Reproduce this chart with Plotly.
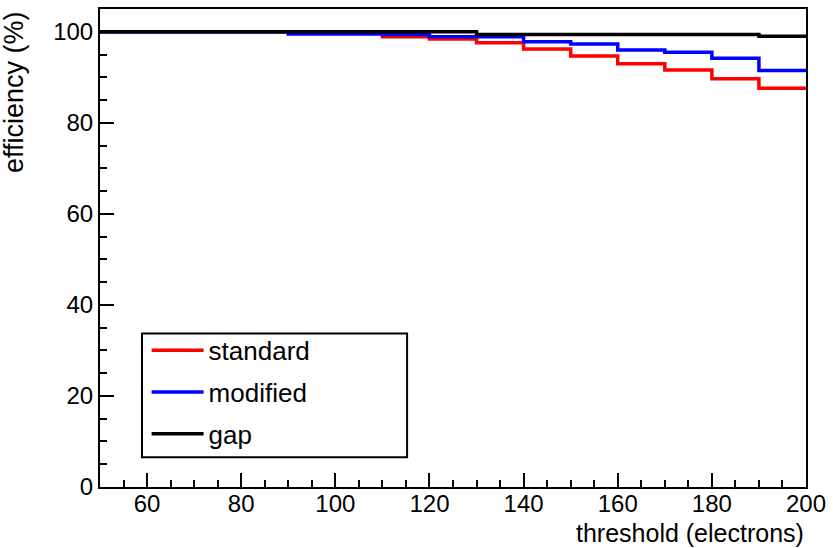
import plotly.graph_objects as go

# bin lower edges (electrons) and efficiencies (%)
thresholds = [50, 60, 70, 80, 90, 100, 110, 120, 130, 140, 150, 160, 170, 180, 190]
x_max = 200
standard = [100, 100, 100, 100, 100, 100, 98.9, 98.4, 97.6, 96.2, 94.7, 93.0, 91.6, 89.7, 87.6]
modified = [100, 100, 100, 100, 99.5, 99.5, 99.4, 98.9, 98.9, 97.8, 97.3, 96.0, 95.5, 94.2, 91.5]
gap = [100, 100, 100, 100, 100, 100, 100, 100, 99.4, 99.4, 99.4, 99.4, 99.4, 99.4, 99.0]

series = [("standard", standard, "#ff0000"), ("modified", modified, "#0000ff"), ("gap", gap, "#000000")]

FONT = "Liberation Sans, Arial, Helvetica, sans-serif"

fig = go.Figure()
for i, (name, vals, color) in enumerate(series):
    xs = thresholds + [x_max]
    ys = vals + [vals[-1]]
    fig.add_trace(go.Scatter(
        x=xs, y=ys, mode="lines", name=name, line=dict(color=color, width=3.5, shape="hv"),
        legendgroup=name,
    ))

fig.update_layout(
    width=833, height=548,
    margin=dict(l=100, r=27, t=7, b=61),
    paper_bgcolor="white", plot_bgcolor="white",
    font=dict(family=FONT, size=24, color="black"),
    showlegend=True,
    legend=dict(x=0.066, y=0.335, xanchor="left", yanchor="top", bgcolor="rgba(0,0,0,0)",
                borderwidth=0, font=dict(size=26), itemwidth=52, tracegroupgap=5,
                traceorder="grouped"),
)
fig.update_xaxes(
    range=[50, 200], tickvals=[60, 80, 100, 120, 140, 160, 180, 200],
    ticks="inside", ticklen=14, tickwidth=2, tickcolor="black",
    minor=dict(dtick=5, tick0=50, ticks="inside", ticklen=7, tickwidth=2, tickcolor="black"),
    showline=True, linecolor="black", linewidth=2, mirror=True, showgrid=False, zeroline=False,
    tickfont=dict(size=24), ticklabelstandoff=-6,
)
fig.update_yaxes(
    range=[0, 105], tickvals=[0, 20, 40, 60, 80, 100],
    ticks="inside", ticklen=14, tickwidth=2, tickcolor="black",
    minor=dict(dtick=5, tick0=0, ticks="inside", ticklen=7, tickwidth=2, tickcolor="black"),
    showline=True, linecolor="black", linewidth=2, mirror=True, showgrid=False, zeroline=False,
    tickfont=dict(size=24),
)
# legend frame
fig.add_shape(type="rect", xref="paper", yref="paper", x0=0.0595, x1=0.435, y0=0.0625, y1=0.321,
              line=dict(color="black", width=2), fillcolor="rgba(0,0,0,0)", layer="above")
# axis titles
fig.add_annotation(text="threshold (electrons)", xref="paper", yref="paper", x=1, y=0,
                   xanchor="right", yanchor="top", yshift=-30, showarrow=False, font=dict(size=25))
fig.add_annotation(text="efficiency (%)", xref="paper", yref="paper", x=0, y=1,
                   xanchor="right", yanchor="top", xshift=-69, textangle=-90, showarrow=False,
                   font=dict(size=27))

fig.write_html("out.html")
